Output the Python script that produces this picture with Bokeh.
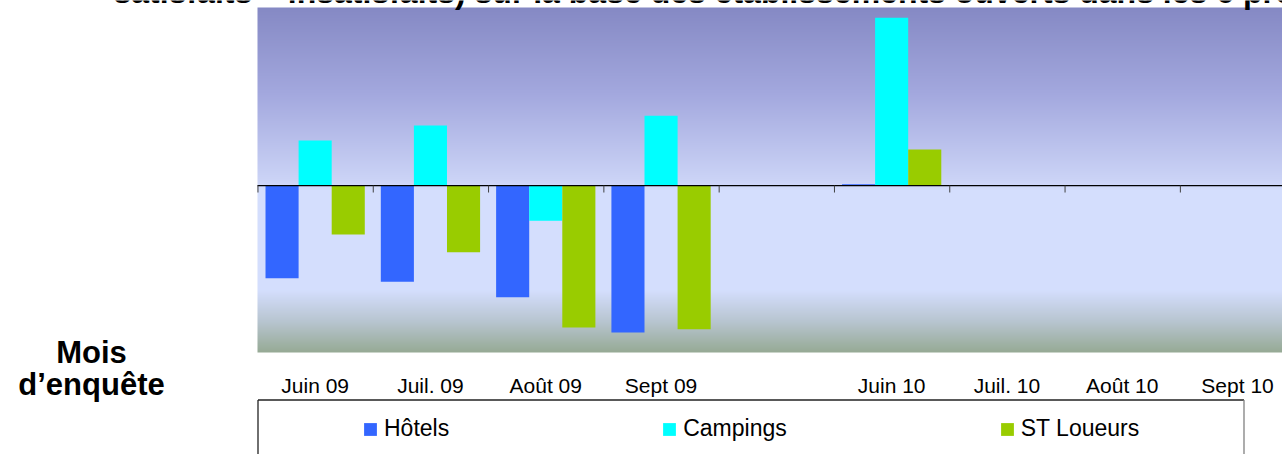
import numpy as np
from bokeh.plotting import figure
from bokeh.models import Range1d, Label, Legend, LegendItem, ColumnDataSource
from bokeh.core.properties import value
from bokeh.transform import dodge
from bokeh.embed import file_html
from bokeh.resources import INLINE

nan = float("nan")

# ---------------- data ----------------
months = ["Juin 09", "Juil. 09", "Août 09", "Sept 09", " ",
          "Juin 10", "Juil. 10", "Août 10", "Sept 10"]
hotels = [-20.8, -21.6, -25.1, -33.0, nan, 0.3, nan, nan, nan]
campings = [10.1, 13.5, -7.9, 15.7, nan, 37.7, nan, nan, nan]
st_loueurs = [-11.0, -15.0, -31.9, -32.3, nan, 8.1, nan, nan, nan]
series_names = ["Hôtels", "Campings", "ST Loueurs"]
series_colors = ["#3366FF", "#00FFFF", "#99CC00"]
title_text = ("satisfaits – insatisfaits) sur la base des établissements "
              "ouverts dans les 6 prochains mois")
axis_title = ["Mois", "d’enquête"]
y_min, y_max = -37.5, 40.0

# ---------------- layout helpers (canvas pixels -> data units) ----------------
W, H = 1282, 454
PLOT_L, PLOT_T, PLOT_B = 257, 7, 352
PX_X = 115.3
PX_Y = (PLOT_B - PLOT_T) / (y_max - y_min)


def ux(px):
    return (px - PLOT_L) / PX_X


def uy(py):
    return y_max - (py - PLOT_T) / PX_Y


p = figure(width=W, height=H,
           x_range=Range1d(ux(0), ux(W)), y_range=Range1d(uy(H), uy(0)),
           x_axis_type=None, y_axis_type=None,
           toolbar_location=None, output_backend="svg",
           min_border_left=0, min_border_right=0,
           min_border_top=0, min_border_bottom=0,
           outline_line_color=None, background_fill_color="white",
           border_fill_color="white")

# ---------------- gradient plot area ----------------
stops = [(0.00, (133, 137, 196)),
         (0.25, (163, 168, 222)),
         (0.50, (203, 211, 246)),
         (0.53, (212, 222, 253)),
         (0.82, (212, 222, 253)),
         (0.91, (184, 197, 208)),
         (1.00, (150, 170, 148))]
N = PLOT_B - PLOT_T
frac = 1.0 - (np.arange(N) + 0.5) / N  # row 0 is bottom
img = np.empty((N, 1), dtype=np.uint32)
view = img.view(dtype=np.uint8).reshape((N, 1, 4))
sp = [s[0] for s in stops]
for c in range(3):
    view[:, 0, c] = np.round(np.interp(frac, sp, [s[1][c] for s in stops])).astype(np.uint8)
view[:, 0, 3] = 255
p.image_rgba(image=[img], x=0, y=y_min, dw=len(months), dh=y_max - y_min, level="image")

# ---------------- bars ----------------
src = ColumnDataSource(dict(x=np.arange(len(months)) + 0.5,
                            hotels=hotels, campings=campings, st=st_loueurs))
bw = 0.287
offsets = [-bw, 0.0, bw]
renderers = []
for field, off, col in zip(["hotels", "campings", "st"], offsets, series_colors):
    r = p.vbar(x=dodge("x", off), top=field, bottom=0, width=bw, source=src,
               fill_color=col, line_color=None)
    renderers.append(r)

# zero line and category ticks
p.segment(x0=[0], y0=[0], x1=[len(months)], y1=[0], line_color="black", line_width=1.2)
bounds = np.arange(len(months) + 1)
p.segment(x0=bounds + 0.004, y0=np.zeros(len(bounds)), x1=bounds + 0.004,
          y1=np.full(len(bounds), uy(192)), line_color="#404040", line_width=1)

# category labels
p.text(x=np.arange(len(months)) + 0.5, y=np.full(len(months), uy(385)), text=months,
       text_align="center", text_baseline="alphabetic",
       text_font=value("Liberation Sans"), text_font_size="21px", text_color="#000000")

# ---------------- legend box ----------------
lx0, lx1, ly0, ly1 = ux(257.5), ux(1243.5), uy(399.5), uy(470)
p.segment(x0=[lx0, lx0], y0=[ly0, ly0], x1=[lx1, lx0], y1=[ly0, ly1],
          line_color="#222222", line_width=1.3)
p.segment(x0=[lx1], y0=[ly0], x1=[lx1], y1=[ly1], line_color="#808080", line_width=1.3)

legend = Legend(items=[LegendItem(label=n, renderers=[r]) for n, r in zip(series_names, renderers)],
                orientation="horizontal", location=(362, 12),
                glyph_width=16, glyph_height=16, label_standoff=6, spacing=212,
                padding=0, margin=0, border_line_alpha=0, background_fill_alpha=0,
                label_text_font="Liberation Sans", label_text_font_size="23px",
                label_text_color="#000000")
p.add_layout(legend)

# ---------------- texts ----------------
p.add_layout(Label(x=ux(113), y=uy(-8.5), text=title_text, text_align="left",
                   text_baseline="alphabetic", text_font="Liberation Sans",
                   text_font_style="bold", text_font_size="32px", text_color="#000000"))
p.add_layout(Label(x=ux(91), y=uy(351.5), text=axis_title[0], text_align="center",
                   text_baseline="alphabetic", text_font="Liberation Sans",
                   text_font_style="bold", text_font_size="31px", text_color="#000000"))
p.add_layout(Label(x=ux(91), y=uy(383.5), text=axis_title[1], text_align="center",
                   text_baseline="alphabetic", text_font="Liberation Sans",
                   text_font_style="bold", text_font_size="31px", text_color="#000000"))

open("out.html", "w").write(file_html(p, INLINE))
